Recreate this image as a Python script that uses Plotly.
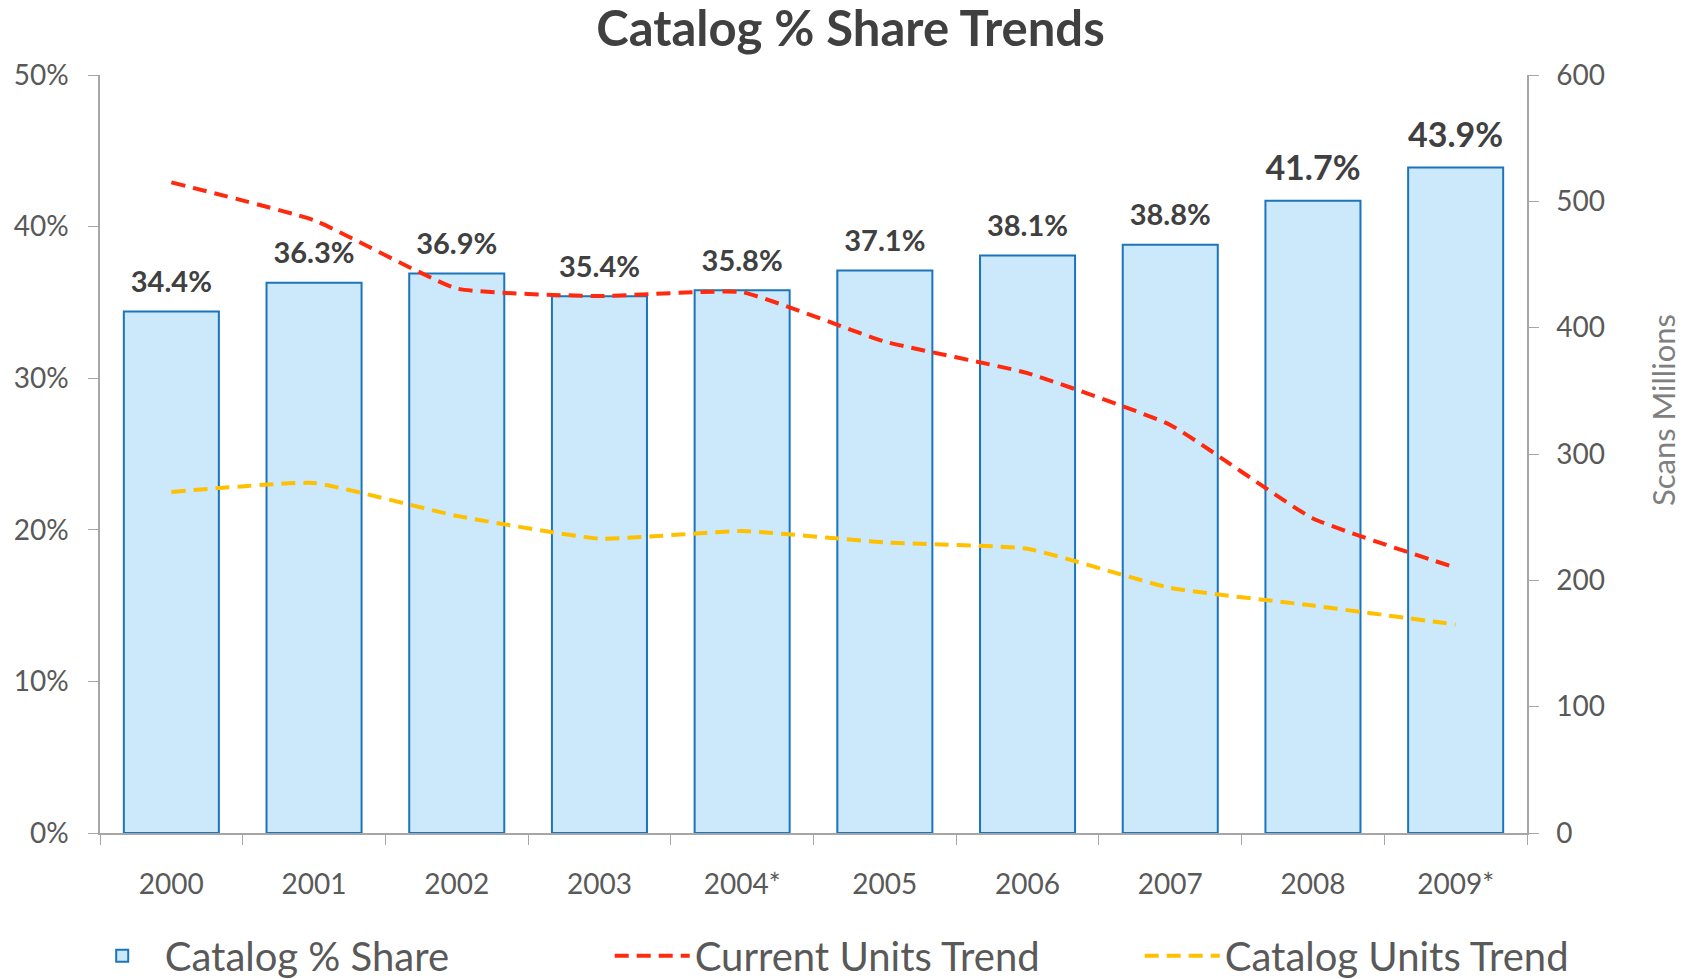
import plotly.graph_objects as go

years = ["2000", "2001", "2002", "2003", "2004*", "2005", "2006", "2007", "2008", "2009*"]
catalog_share = [34.4, 36.3, 36.9, 35.4, 35.8, 37.1, 38.1, 38.8, 41.7, 43.9]
current_units = [515, 485, 431, 425, 428, 389, 364, 323, 249, 210]
catalog_units = [270, 277, 251, 233, 239, 230, 225, 194, 180, 165]
label_sizes = [29, 29, 29, 29, 29, 29, 29, 29, 34, 34]

FONT = "Lato, 'Open Sans', sans-serif"
GREY = "#404040"
TICK = "#595959"
AXIS = "#a6a6a6"

fig = go.Figure()
fig.add_trace(go.Bar(
    x=years, y=catalog_share, name="Catalog % Share",
    marker=dict(color="#cce8fb", line=dict(color="#1b75bc", width=2)),
))
fig.add_trace(go.Scatter(
    x=years, y=current_units, name="Current Units Trend", yaxis="y2",
    mode="lines", line=dict(color="#ff2a0d", width=4, dash="14px,8px", shape="spline", smoothing=0.4),
))
fig.add_trace(go.Scatter(
    x=years, y=catalog_units, name="Catalog Units Trend", yaxis="y2",
    mode="lines", line=dict(color="#ffc000", width=4, dash="14px,8px", shape="spline", smoothing=0.4),
))
# data labels above the bars
fig.add_trace(go.Scatter(
    x=years, y=catalog_share, mode="markers+text", showlegend=False, hoverinfo="skip",
    marker=dict(size=18, color="rgba(0,0,0,0)"),
    text=[f"<b>{v:.1f}%</b>" for v in catalog_share], textposition="top center",
    textfont=dict(size=label_sizes, color=GREY, family=FONT), cliponaxis=False,
))

fig.add_annotation(text="Scans Millions", textangle=-90, xref="paper", yref="paper",
                   x=1.0953, y=0.558, xanchor="center", yanchor="middle", showarrow=False,
                   font=dict(size=31, color="#7f7f7f", family=FONT))

fig.update_layout(
    width=1685, height=979,
    margin=dict(l=92, r=166, t=67, b=154, autoexpand=False),
    paper_bgcolor="white", plot_bgcolor="white",
    font=dict(family=FONT, color=GREY),
    title=dict(text="<b>Catalog % Share Trends</b>", x=0.5, xanchor="center", y=0.996, yanchor="top",
               font=dict(size=49, color=GREY, family=FONT)),
    bargap=0.334,
    showlegend=True,
    legend=dict(orientation="h", x=1.1, xanchor="right", y=-0.162, yanchor="middle",
                font=dict(size=40, color=TICK, family=FONT), itemwidth=75,
                traceorder="normal", entrywidth=440, tracegroupgap=0),
    xaxis=dict(type="category", range=[-0.5, len(years) - 0.5], showline=True, linecolor=AXIS,
               linewidth=1.5, ticks="outside", tickson="boundaries", ticklen=10, tickcolor=AXIS,
               tickfont=dict(size=28, color=TICK), showgrid=False, ticklabelstandoff=26),
    yaxis=dict(range=[0, 50], dtick=10, ticksuffix="%", showline=True, linecolor=AXIS, linewidth=1.5,
               ticks="outside", ticklen=10, tickcolor=AXIS, showgrid=False, zeroline=False,
               tickfont=dict(size=28, color=TICK), ticklabelstandoff=14),
    yaxis2=dict(range=[0, 600], dtick=100, overlaying="y", side="right", showline=True,
                linecolor=AXIS, linewidth=1.5, ticks="outside", ticklen=10, tickcolor=AXIS,
                showgrid=False, zeroline=False, tickfont=dict(size=28, color=TICK),
                ticklabelstandoff=12),
)

fig.write_html("out.html")
